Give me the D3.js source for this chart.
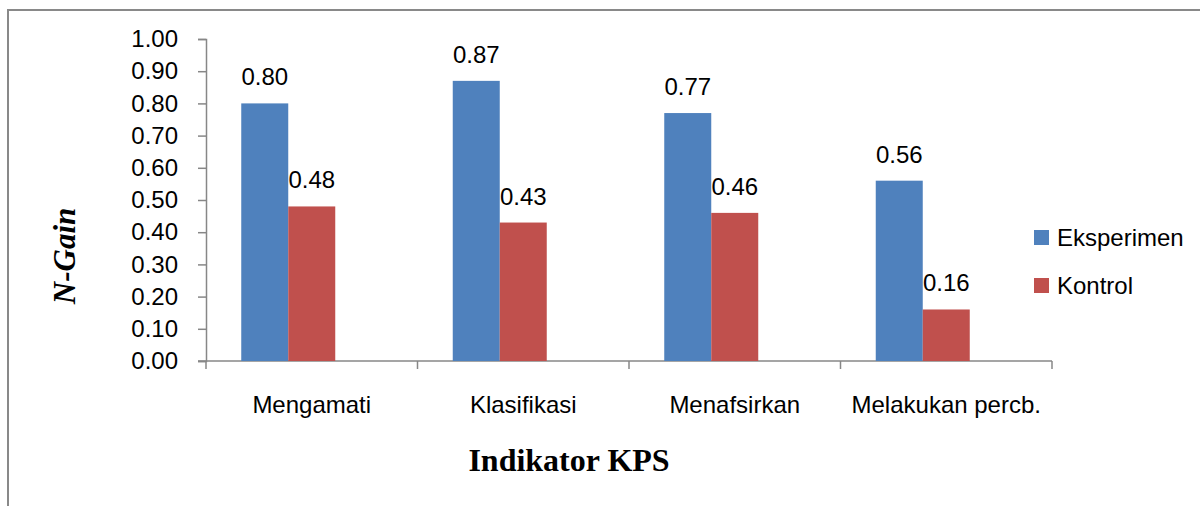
<!DOCTYPE html>
<html>
<head>
<meta charset="utf-8">
<script src="https://cdn.jsdelivr.net/npm/d3@7"></script>
<style>
  body { margin: 0; background: #fff; }
  svg text { font-family: "Liberation Sans", Arial, sans-serif; }
</style>
</head>
<body>
<div id="chart"></div>
<script>
const categories = ["Mengamati", "Klasifikasi", "Menafsirkan", "Melakukan percb."];
const series = ["Eksperimen", "Kontrol"];
const eksperimen = [0.80, 0.87, 0.77, 0.56];
const kontrol = [0.48, 0.43, 0.46, 0.16];
const colors = ["#4F81BD", "#C0504D"];
const yTicks = [0, 0.1, 0.2, 0.3, 0.4, 0.5, 0.6, 0.7, 0.8, 0.9, 1.0];

const values = [eksperimen, kontrol];

let width = 1200, height = 506;
let margin = {top: 39, left: 206, right: 148, bottom: 145};

let svg = d3.select("#chart").append("svg")
    .attr("width", width)
    .attr("height", height);

// outer frame (runs off right and bottom edge)
svg.append("rect")
    .attr("x", 8).attr("y", 10)
    .attr("width", 1210).attr("height", 520)
    .attr("fill", "none")
    .attr("stroke", "#898989")
    .attr("stroke-width", 2);

let x = d3.scaleBand()
    .domain(categories)
    .range([margin.left, width - margin.right])
    .padding(0);

// excel keeps a 3rd (empty) slot, so bars sit left of the centre
let xSub = d3.scaleBand()
    .domain(["Eksperimen", "Kontrol", "kosong"])
    .range([0, x.bandwidth()])
    .paddingInner(0)
    .paddingOuter(0.75);

let y = d3.scaleLinear()
    .domain([0, 1])
    .range([height - margin.bottom, margin.top]);

// y axis
let yAxis = svg.append("g")
    .attr("transform", `translate(${margin.left},0)`)
    .call(d3.axisLeft(y).tickValues(yTicks).tickFormat(d3.format(".2f")).tickSize(8).tickPadding(20));
yAxis.select(".domain").attr("stroke", "#878787").attr("stroke-width", 1.5);
yAxis.selectAll(".tick line").attr("stroke", "#878787").attr("stroke-width", 1.5);
yAxis.selectAll(".tick text")
    .attr("font-size", 24)
    .attr("font-family", "Liberation Sans, Arial, sans-serif")
    .attr("fill", "#000");

// x axis with ticks between categories
let xAxis = svg.append("g")
    .attr("transform", `translate(0,${y(0)})`);
xAxis.append("line")
    .attr("x1", margin.left - 8).attr("x2", width - margin.right)
    .attr("stroke", "#878787").attr("stroke-width", 1.5);
let bounds = categories.map(c => x(c)).concat([x(categories[categories.length - 1]) + x.bandwidth()]);
xAxis.selectAll(".xt")
    .data(bounds)
    .enter()
    .append("line")
    .attr("class", "xt")
    .attr("x1", d => d).attr("x2", d => d)
    .attr("y1", 0).attr("y2", 8)
    .attr("stroke", "#878787").attr("stroke-width", 1.5);
xAxis.selectAll(".xl")
    .data(categories)
    .enter()
    .append("text")
    .attr("class", "xl")
    .attr("x", d => x(d) + x.bandwidth() / 2)
    .attr("y", 52)
    .attr("text-anchor", "middle")
    .attr("font-size", 24)
    .text(d => d);

// bars
series.forEach(function(s, i) {
    let g = svg.append("g").attr("class", "series");
    g.selectAll("rect")
        .data(values[i])
        .enter()
        .append("rect")
        .attr("x", (d, j) => x(categories[j]) + xSub(s))
        .attr("y", d => y(d))
        .attr("width", xSub.bandwidth())
        .attr("height", d => y(0) - y(d))
        .attr("fill", colors[i]);
    g.selectAll("text")
        .data(values[i])
        .enter()
        .append("text")
        .attr("x", (d, j) => x(categories[j]) + xSub(s) + xSub.bandwidth() / 2)
        .attr("y", d => y(d) - 18)
        .attr("text-anchor", "middle")
        .attr("font-size", 24)
        .text(d => d3.format(".2f")(d));
});

// legend
let legend = svg.append("g");
series.forEach(function(s, i) {
    legend.append("rect")
        .attr("x", 1034).attr("y", 230 + i * 48)
        .attr("width", 15).attr("height", 15)
        .attr("fill", colors[i]);
    legend.append("text")
        .attr("x", 1057).attr("y", 246 + i * 48)
        .attr("font-size", 24)
        .text(s);
});

// axis titles
svg.append("text")
    .attr("x", 569).attr("y", 471)
    .attr("text-anchor", "middle")
    .style("font-family", "Liberation Serif, Times New Roman, serif")
    .attr("font-weight", "bold")
    .attr("font-size", 32)
    .text("Indikator KPS");

svg.append("text")
    .attr("transform", "translate(75,256) rotate(-90)")
    .attr("text-anchor", "middle")
    .style("font-family", "Liberation Serif, Times New Roman, serif")
    .attr("font-weight", "bold")
    .attr("font-style", "italic")
    .attr("font-size", 31)
    .text("N-Gain");
</script>
</body>
</html>
